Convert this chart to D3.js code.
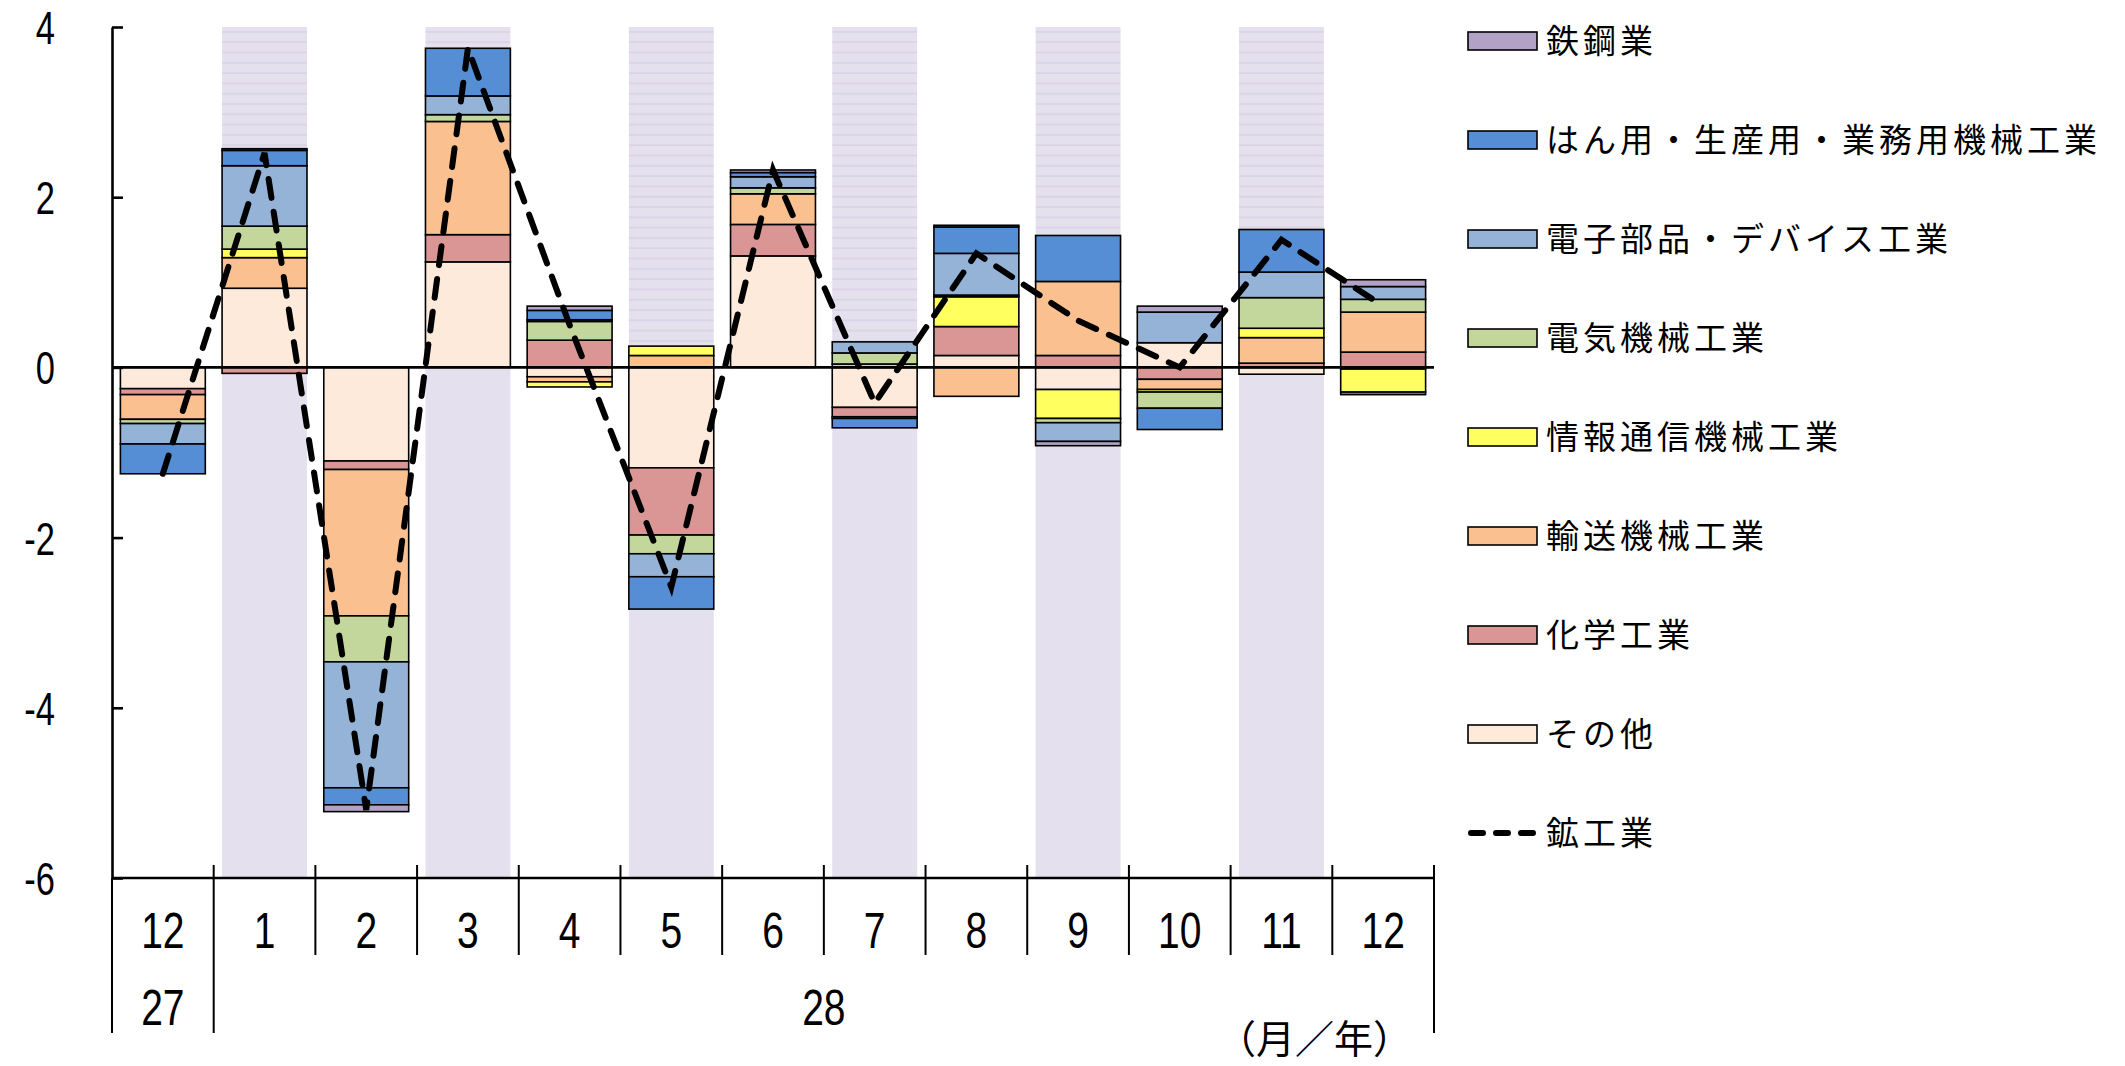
<!DOCTYPE html>
<html>
<head>
<meta charset="utf-8">
<script src="https://cdn.jsdelivr.net/npm/d3@7"></script>
<style>
  html, body { margin: 0; padding: 0; background: #ffffff; }
  svg { display: block; }
</style>
</head>
<body>
<svg id="chart" width="2125" height="1066"></svg>
<script>
// Month / year categories (H27.12 - H28.12)
const months = ["12", "1", "2", "3", "4", "5", "6", "7", "8", "9", "10", "11", "12"];
const yearLabels = ["27", "28"];
const yearSpans = [[0, 0], [1, 12]];          // first and last category index of each year
const shadedMonths = [1, 3, 5, 7, 9, 11];      // category indices drawn with a shaded band

// Contributions by industry (percentage points)
const tekko   = [ 0.00,  0.02, -0.08,  0.00,  0.05,  0.00,  0.03,  0.00,  0.02, -0.05,  0.07,  0.00,  0.08];
const hanyo   = [-0.35,  0.18, -0.20,  0.56,  0.11, -0.38,  0.05, -0.11,  0.31,  0.54, -0.25,  0.50, -0.03];
const denshi  = [-0.24,  0.71, -1.48,  0.22,  0.02, -0.27,  0.13,  0.13,  0.49, -0.22,  0.36,  0.30,  0.15];
const denki   = [-0.05,  0.27, -0.54,  0.08,  0.22, -0.22,  0.07,  0.13,  0.02, -0.05, -0.19,  0.36,  0.15];
const joho    = [ 0.00,  0.10,  0.00,  0.00, -0.06,  0.11,  0.00, -0.02,  0.35, -0.34, -0.03,  0.11, -0.27];
const yuso    = [-0.29,  0.36, -1.72,  1.33, -0.06,  0.14,  0.36,  0.04, -0.34,  0.87, -0.12,  0.30,  0.47];
const kagaku  = [-0.07, -0.07, -0.10,  0.32,  0.32, -0.79,  0.37, -0.11,  0.34,  0.14, -0.14,  0.05,  0.18];
const sonota  = [-0.25,  0.93, -1.10,  1.24, -0.11, -1.18,  1.31, -0.47,  0.14, -0.26,  0.29, -0.08, -0.02];

// Mining and manufacturing total (percent change)
const kokogyo = [-1.25, 2.52, -5.20, 3.75, 0.50, -2.58, 2.32, -0.42, 1.34, 0.55, 0.00, 1.50, 0.72];

const yTicks = [-6, -4, -2, 0, 2, 4];

// Series metadata: stacking order runs from the zero line outward
const stackKeys = ["sonota", "kagaku", "yuso", "joho", "denki", "denshi", "hanyo", "tekko"];
const seriesValues = { tekko, hanyo, denshi, denki, joho, yuso, kagaku, sonota };
const seriesLabels = {
  tekko: "鉄鋼業",
  hanyo: "はん用・生産用・業務用機械工業",
  denshi: "電子部品・デバイス工業",
  denki: "電気機械工業",
  joho: "情報通信機械工業",
  yuso: "輸送機械工業",
  kagaku: "化学工業",
  sonota: "その他"
};
const seriesColors = {
  tekko: "#b3a2c7",
  hanyo: "#558ed5",
  denshi: "#95b3d7",
  denki: "#c3d69b",
  joho: "#ffff5f",
  yuso: "#fac090",
  kagaku: "#d99694",
  sonota: "#fdeada"
};
const legendOrder = ["tekko", "hanyo", "denshi", "denki", "joho", "yuso", "kagaku", "sonota"];
const lineLabel = "鉱工業";

// ---- layout ----
const svg = d3.select("#chart");
const plotLeft = 112, plotRight = 1434, plotTop = 27, plotBottom = 878;
const numFont = "'Liberation Sans', Arial, sans-serif";
const jpFont = "'Noto Sans CJK JP', 'Noto Sans', sans-serif";

const x = d3.scaleBand()
  .domain(d3.range(months.length))
  .range([plotLeft, plotRight])
  .paddingInner(0.165)
  .paddingOuter(0.0825);
const step = x.step();
const slotLeft = i => plotLeft + i * step;

const y = d3.scaleLinear().domain([-6, 4]).range([plotBottom, plotTop]);

// Hatched lavender band pattern for the upper half of shaded months
const defs = svg.append("defs");
const pat = defs.append("pattern")
  .attr("id", "bandLines")
  .attr("patternUnits", "userSpaceOnUse")
  .attr("width", 8).attr("height", 10.3);
pat.append("rect").attr("width", 8).attr("height", 10.3).attr("fill", "#e5e0ee");
pat.append("line").attr("x1", 0).attr("x2", 8).attr("y1", 1).attr("y2", 1)
  .attr("stroke", "#d3cadf").attr("stroke-width", 1);

const bands = svg.append("g");
shadedMonths.forEach(i => {
  bands.append("rect")
    .attr("x", x(i)).attr("width", x.bandwidth())
    .attr("y", y(4)).attr("height", y(0) - y(4))
    .attr("fill", "url(#bandLines)");
  bands.append("rect")
    .attr("x", x(i)).attr("width", x.bandwidth())
    .attr("y", y(0)).attr("height", y(-6) - y(0))
    .attr("fill", "#e5e0ee");
});

// ---- stacked bars ----
const rows = months.map((m, i) => {
  const r = { i };
  stackKeys.forEach(k => { r[k] = seriesValues[k][i]; });
  return r;
});
const stacked = d3.stack().keys(stackKeys).offset(d3.stackOffsetDiverging)(rows);

const barG = svg.append("g");
stacked.forEach(layer => {
  barG.append("g")
    .attr("fill", seriesColors[layer.key])
    .selectAll("rect")
    .data(layer.filter(d => d[1] !== d[0]))
    .join("rect")
    .attr("x", d => x(d.data.i))
    .attr("width", x.bandwidth())
    .attr("y", d => y(Math.max(d[0], d[1])))
    .attr("height", d => Math.abs(y(d[0]) - y(d[1])))
    .attr("stroke", "#000")
    .attr("stroke-width", 1.6);
});

// zero line
svg.append("line")
  .attr("x1", plotLeft).attr("x2", plotRight)
  .attr("y1", y(0)).attr("y2", y(0))
  .attr("stroke", "#000").attr("stroke-width", 2.6);

// ---- mining & manufacturing line ----
const line = d3.line()
  .x((d, i) => x(i) + x.bandwidth() / 2)
  .y(d => y(d));
svg.append("path")
  .datum(kokogyo)
  .attr("d", line)
  .attr("fill", "none")
  .attr("stroke", "#000")
  .attr("stroke-width", 6)
  .attr("stroke-linecap", "round")
  .attr("stroke-dasharray", "19 14");

// ---- y axis ----
const yScaleX = 0.75;
const yAxisG = svg.append("g")
  .attr("transform", `translate(${plotLeft},0)`)
  .call(d3.axisLeft(y).tickValues(yTicks).tickFormat(d => String(d))
    .tickSizeInner(-11).tickSizeOuter(0).tickPadding(57));
yAxisG.select(".domain").attr("stroke", "#000").attr("stroke-width", 2.6);
yAxisG.selectAll(".tick line").attr("stroke", "#000").attr("stroke-width", 2.6);
yAxisG.selectAll(".tick text")
  .attr("font-family", numFont)
  .attr("font-size", 46)
  .attr("fill", "#000")
  .attr("x", -57 / yScaleX)
  .attr("dy", "0.36em")
  .attr("transform", `scale(${yScaleX},1)`);

// ---- x axis (bottom line, separators, two-level labels) ----
const xAxisG = svg.append("g");
xAxisG.append("line")
  .attr("x1", plotLeft).attr("x2", plotRight)
  .attr("y1", y(-6)).attr("y2", y(-6))
  .attr("stroke", "#000").attr("stroke-width", 2.6);

const yearBoundaries = new Set([0, yearSpans[1][0], months.length]);
d3.range(months.length + 1).forEach(i => {
  const long = yearBoundaries.has(i);
  xAxisG.append("line")
    .attr("x1", slotLeft(i)).attr("x2", slotLeft(i))
    .attr("y1", long && i === 0 ? y(-6) : y(-6) - 13)
    .attr("y2", long ? 1033 : 955)
    .attr("stroke", "#000").attr("stroke-width", 2);
});

const xScaleX = 0.78;
xAxisG.selectAll("text.month")
  .data(months)
  .join("text")
  .attr("class", "month")
  .attr("transform", (d, i) => `translate(${x(i) + x.bandwidth() / 2},930) scale(${xScaleX},1)`)
  .attr("text-anchor", "middle")
  .attr("dy", "0.36em")
  .attr("font-family", numFont)
  .attr("font-size", 50)
  .attr("fill", "#000")
  .text(d => d);

xAxisG.selectAll("text.year")
  .data(yearLabels)
  .join("text")
  .attr("class", "year")
  .attr("transform", (d, k) => {
    const cx = (slotLeft(yearSpans[k][0]) + slotLeft(yearSpans[k][1] + 1)) / 2;
    return `translate(${cx},1007) scale(${xScaleX},1)`;
  })
  .attr("text-anchor", "middle")
  .attr("dy", "0.36em")
  .attr("font-family", numFont)
  .attr("font-size", 50)
  .attr("fill", "#000")
  .text(d => d);

svg.append("text")
  .attr("x", 1412).attr("y", 1039)
  .attr("text-anchor", "end")
  .attr("dy", "0.36em")
  .attr("font-family", jpFont)
  .attr("font-size", 39)
  .attr("fill", "#000")
  .text("（月／年）");

// ---- legend ----
const legend = svg.append("g");
const legendX = 1468, legendTop = 41, legendGap = 99;
legendOrder.forEach((k, i) => {
  const cy = legendTop + i * legendGap;
  legend.append("rect")
    .attr("x", legendX).attr("y", cy - 9)
    .attr("width", 69).attr("height", 18)
    .attr("fill", seriesColors[k])
    .attr("stroke", "#000").attr("stroke-width", 1.6);
  legend.append("text")
    .attr("x", legendX + 78).attr("y", cy)
    .attr("dy", "0.36em")
    .attr("font-family", jpFont)
    .attr("font-size", 33)
    .attr("letter-spacing", 4)
    .attr("fill", "#000")
    .text(seriesLabels[k]);
});
{
  const cy = legendTop + legendOrder.length * legendGap;
  legend.append("line")
    .attr("x1", legendX + 3).attr("x2", legendX + 66)
    .attr("y1", cy).attr("y2", cy)
    .attr("stroke", "#000").attr("stroke-width", 6)
    .attr("stroke-linecap", "round")
    .attr("stroke-dasharray", "12 13");
  legend.append("text")
    .attr("x", legendX + 78).attr("y", cy)
    .attr("dy", "0.36em")
    .attr("font-family", jpFont)
    .attr("font-size", 33)
    .attr("letter-spacing", 4)
    .attr("fill", "#000")
    .text(lineLabel);
}
</script>
</body>
</html>
